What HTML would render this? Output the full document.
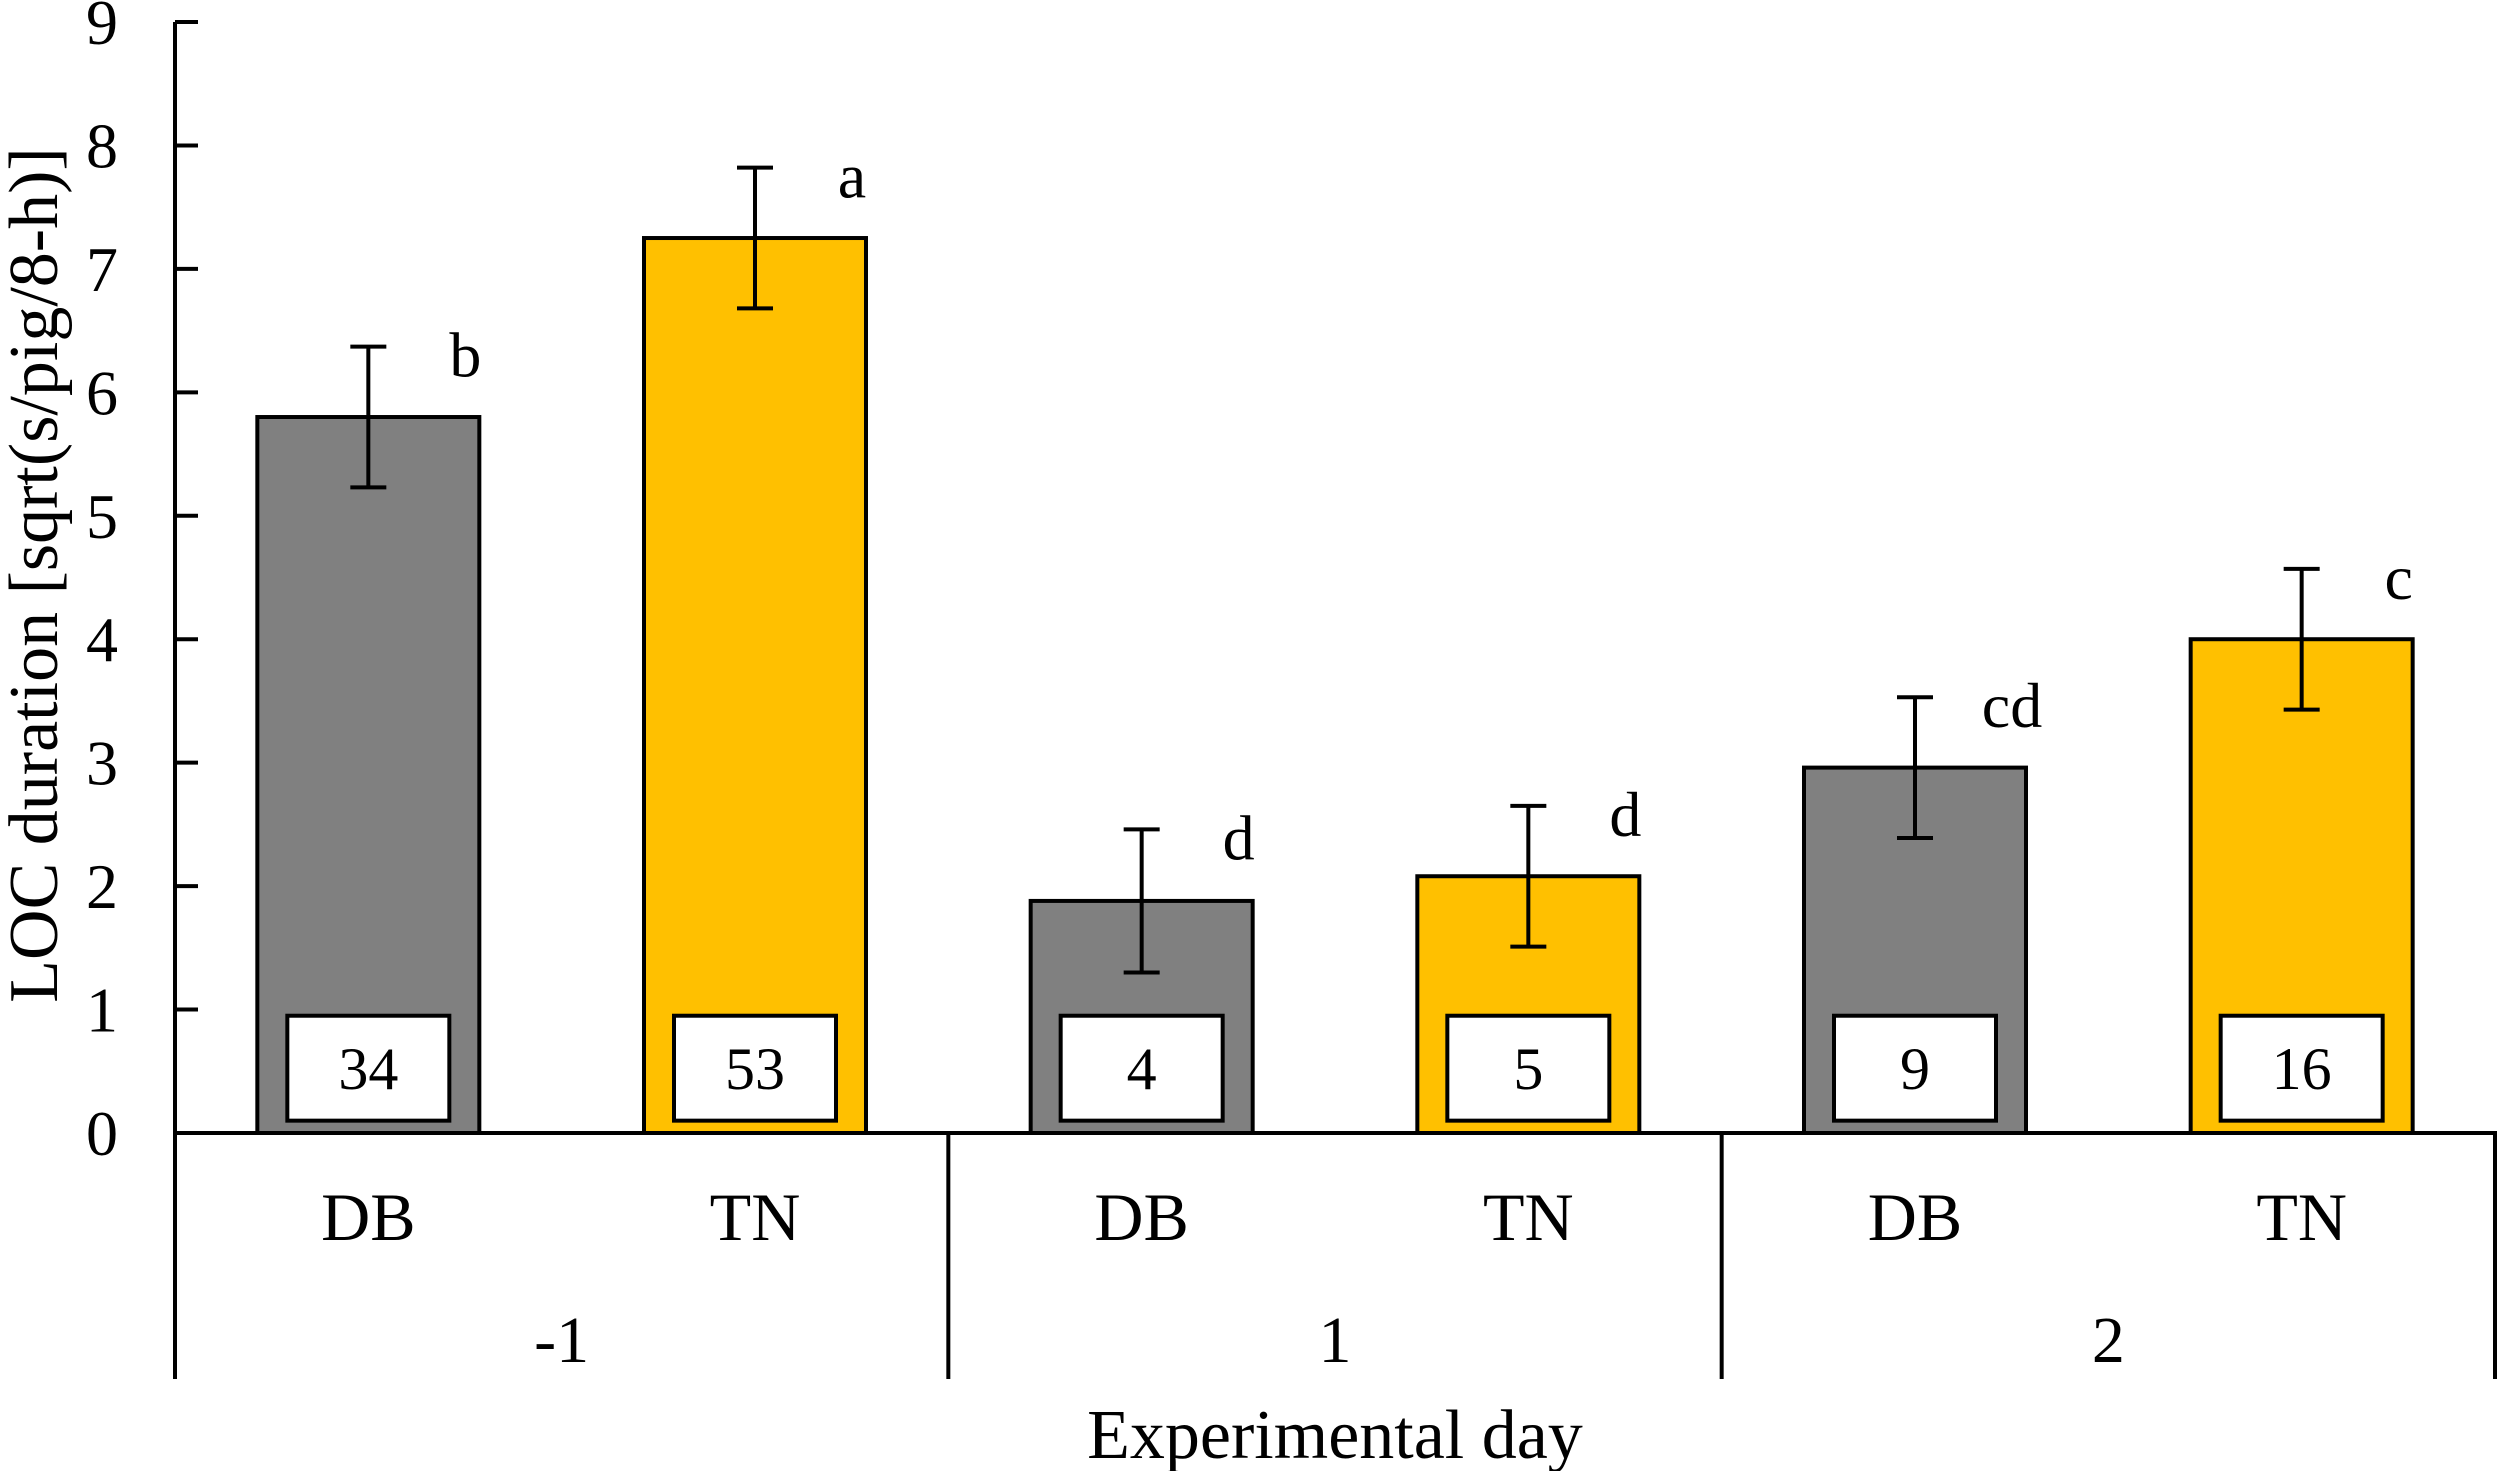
<!DOCTYPE html>
<html><head><meta charset="utf-8"><style>
html,body{margin:0;padding:0;background:#fff;}
svg{display:block;font-family:"Liberation Serif",serif;}
</style></head><body>
<svg id="chart" width="2500" height="1471" viewBox="0 0 2500 1471" xmlns="http://www.w3.org/2000/svg"></svg>
<script>
const days = ["-1","1","2"];
const groups = ["DB","TN","DB","TN","DB","TN"];
const values = [5.8, 7.25, 1.88, 2.08, 2.96, 4.0];
const errors = [0.57, 0.57, 0.58, 0.57, 0.57, 0.57];
const letters = ["b","a","d","d","cd","c"];
const counts = ["34","53","4","5","9","16"];
const yTicks = [0,1,2,3,4,5,6,7,8,9];

const svg = document.getElementById('chart');
const NS = "http://www.w3.org/2000/svg";
const X0 = 175, X1 = 2495, Y0 = 1133, Y9 = 22;
const y = v => Y0 - (Y0 - Y9) * v / 9;
const slotW = (X1 - X0) / values.length;
const xc = i => X0 + slotW * (i + 0.5);
const barW = 222;
const colors = ["#808080","#FFC000"];

function mk(tag, attrs, text){
  const e = document.createElementNS(NS, tag);
  for (const k in attrs) e.setAttribute(k, attrs[k]);
  if (text !== undefined) e.textContent = text;
  svg.appendChild(e);
  return e;
}

values.forEach((v,i)=>{
  const r = mk('rect',{x:xc(i)-barW/2,y:y(v),width:barW,height:Y0-y(v),fill:colors[i%2],stroke:'#000','stroke-width':4});
  
  
  const b = mk('rect',{x:xc(i)-81,y:y(0.95),width:162,height:y(0.1)-y(0.95),fill:'#fff',stroke:'#000','stroke-width':4});
  
  
  const t = mk('text',{x:xc(i),y:y(0.525)+21,'text-anchor':'middle','font-size':60,fill:'#000'},counts[i]);
  
  
  const hi = y(v+errors[i]), lo = y(v-errors[i]);
  const eg = mk('path',{d:`M${xc(i)},${hi}V${lo}M${xc(i)-18},${hi}H${xc(i)+18}M${xc(i)-18},${lo}H${xc(i)+18}`,stroke:'#000','stroke-width':4,fill:'none'});
  
  
  const l = mk('text',{x:xc(i)+97,y:hi+30,'text-anchor':'middle','font-size':64,fill:'#000'},letters[i]);
  
  
  const g = mk('text',{x:xc(i),y:1240,'text-anchor':'middle','font-size':68,fill:'#000'},groups[i]);
  
  
});

const ax = mk('path',{d:`M${X0},${Y9}V1379M${X0},${Y0}H${X1}V1379`,stroke:'#000','stroke-width':4,fill:'none'});


days.forEach((d,k)=>{
  if(k>0){
    const s = mk('line',{x1:X0+slotW*2*k,y1:Y0,x2:X0+slotW*2*k,y2:1379,stroke:'#000','stroke-width':4});
    
    
  }
  const t = mk('text',{x:X0+slotW*(2*k+1),y:1362,'text-anchor':'middle','font-size':66,fill:'#000'},d);
  
  
});
yTicks.forEach(v=>{
  const tk = mk('line',{x1:X0,y1:y(v),x2:X0+23,y2:y(v),stroke:'#000','stroke-width':4});
  
  
  const t = mk('text',{x:118,y:y(v)+22,'text-anchor':'end','font-size':64,fill:'#000'},String(v));
  
  
});
const yt = mk('text',{x:0,y:0,transform:'translate(57,575) rotate(-90)','text-anchor':'middle','font-size':70,fill:'#000'},'LOC duration [sqrt(s/pig/8-h)]');


const xt = mk('text',{x:1335,y:1458,'text-anchor':'middle','font-size':70,fill:'#000'},'Experimental day');


</script>
</body></html>
